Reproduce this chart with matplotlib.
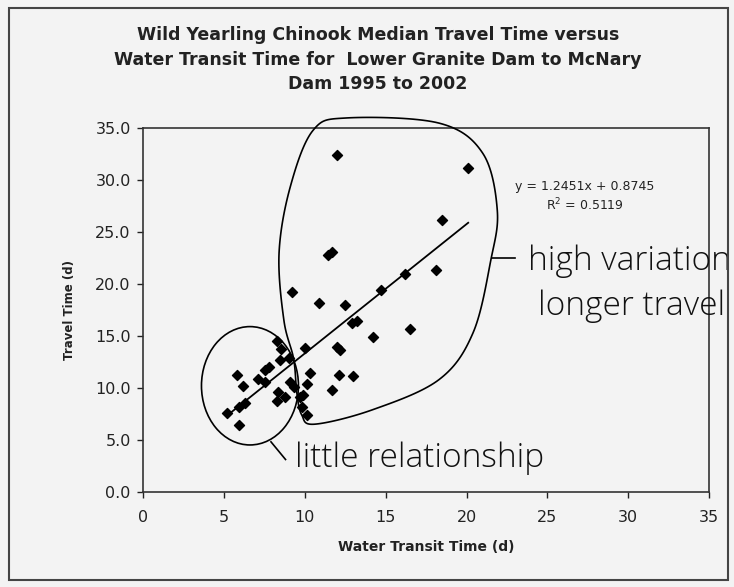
import numpy as np
import matplotlib
matplotlib.use("Agg")
import matplotlib.pyplot as plt
from matplotlib.patches import Ellipse, Rectangle, Polygon

# Values (water transit time vs. travel time, days)
transit_time = [
    12.0, 20.1, 18.5, 11.4, 11.7, 18.1, 16.2, 14.7, 9.2, 10.9,
    12.5, 12.9, 13.2, 16.5, 14.2, 12.0, 12.2, 10.0, 12.1, 12.95,
    11.7, 10.3, 10.1, 9.9, 10.1,
    8.25, 8.55, 8.45, 9.0, 7.8, 7.5, 7.1, 7.5, 5.8, 6.2,
    5.9, 6.3, 5.15, 5.9, 9.3, 9.1, 8.35, 8.75, 8.25, 9.7, 9.8,
]
travel_time = [
    32.4, 31.2, 26.2, 22.8, 23.1, 21.4, 21.0, 19.4, 19.2, 18.2,
    18.0, 16.2, 16.4, 15.7, 14.9, 13.9, 13.6, 13.8, 11.2, 11.1,
    9.8, 11.4, 10.4, 9.3, 7.4,
    14.5, 13.7, 12.7, 12.9, 12.0, 11.7, 10.9, 10.6, 11.2, 10.2,
    8.2, 8.5, 7.55, 6.4, 10.1, 10.6, 9.6, 9.15, 8.7, 9.1, 8.2,
]
slope, intercept, r2 = 1.2451, 0.8745, 0.5119

x_ticks = [0, 5, 10, 15, 20, 25, 30, 35]
y_ticks = [0, 5, 10, 15, 20, 25, 30, 35]

plt.rcParams['font.family'] = ['DejaVu Sans']
bg = '#f3f3f3'
ink = '#222222'

fig = plt.figure(figsize=(7.34, 5.87), dpi=100, facecolor=bg)
ax = fig.add_axes([0.1952, 0.1624, 0.7708, 0.619])
ax.set_facecolor(bg)

ax.scatter(transit_time, travel_time, marker='D', s=26, color='black', zorder=3)
xs = np.array([min(transit_time), max(transit_time)])
ax.plot(xs, slope * xs + intercept, color='black', lw=1.3, zorder=2)

ax.set_xlim(0, 35)
ax.set_ylim(0, 35)
ax.set_xticks(x_ticks)
ax.set_yticks(y_ticks)
ax.set_xticklabels([str(t) for t in x_ticks])
ax.set_yticklabels([f"{t:.1f}" for t in y_ticks])
ax.tick_params(direction='out', length=4, width=1, colors=ink, labelsize=11.5, pad=5)
ax.tick_params(axis='x', pad=9)
for sp in ax.spines.values():
    sp.set_color('#333333')
    sp.set_linewidth(1.2)

ax.set_xlabel("Water Transit Time (d)", fontsize=10, fontweight='bold', labelpad=11, color=ink)
ax.set_ylabel("Travel Time (d)", fontsize=8.5, fontweight='bold', labelpad=14, color=ink)

fig.text(0.515, 0.955, "Wild Yearling Chinook Median Travel Time versus\n"
         "Water Transit Time for  Lower Granite Dam to McNary\nDam 1995 to 2002",
         ha='center', va='top', fontsize=12.5, fontweight='bold', linespacing=1.45, color=ink)

ax.text(0.781, 0.841, f"y = {slope}x + {intercept}", transform=ax.transAxes,
        ha='center', va='center', fontsize=9, color=ink)
ax.text(0.781, 0.789, f"R$^2$ = {r2}", transform=ax.transAxes,
        ha='center', va='center', fontsize=9, color=ink)

# hand-drawn annotations
def closed_curve(pts, n=20):
    pts = np.asarray(pts, float)
    out = []
    m = len(pts)
    for i in range(m):
        p0, p1, p2, p3 = pts[i - 1], pts[i], pts[(i + 1) % m], pts[(i + 2) % m]
        t = np.linspace(0, 1, n, endpoint=False)[:, None]
        out.append(0.5 * (2 * p1 + (-p0 + p2) * t + (2 * p0 - 5 * p1 + 4 * p2 - p3) * t**2
                          + (-p0 + 3 * p1 - 3 * p2 + p3) * t**3))
    return np.vstack(out)

blob = [(8.7, 16.5), (8.4, 23.0), (9.1, 29.4), (10.5, 34.8), (12.6, 36.0), (18.3, 35.5),
        (21.0, 32.6), (21.9, 27.1), (21.5, 22.3), (20.4, 15.3), (18.3, 10.8), (14.2, 7.9),
        (10.6, 6.5), (9.8, 7.4), (9.5, 9.5), (9.3, 12.8)]
ax.add_patch(Polygon(closed_curve(blob), closed=True, fill=False, ec='black', lw=1.2,
                     clip_on=False, zorder=4))
ax.add_patch(Ellipse((6.6, 10.2), 6.0, 11.4, angle=0, fill=False, ec='black', lw=1.2,
                     clip_on=False, zorder=4))
ax.plot([21.6, 23.0], [22.5, 22.5], color='black', lw=1.2, clip_on=False)
ax.plot([7.9, 8.8], [4.8, 3.1], color='black', lw=1.2, clip_on=False)

hand = dict(fontsize=24, family=['Open Sans', 'DejaVu Sans'], fontweight='light',
            clip_on=False, va='baseline', ha='left', color='#111111')
ax.text(23.8, 21.4, "high variation", **hand)
ax.text(24.4, 17.0, "longer travel", **hand)
ax.text(9.4, 2.35, "little relationship", **hand)

fig.patches.append(Rectangle((9 / 734, 1 - 580 / 587), 719 / 734, 572 / 587,
                             transform=fig.transFigure, fill=False, ec='#444444', lw=1.5))

fig.savefig("out.png", dpi=100, facecolor=bg)
